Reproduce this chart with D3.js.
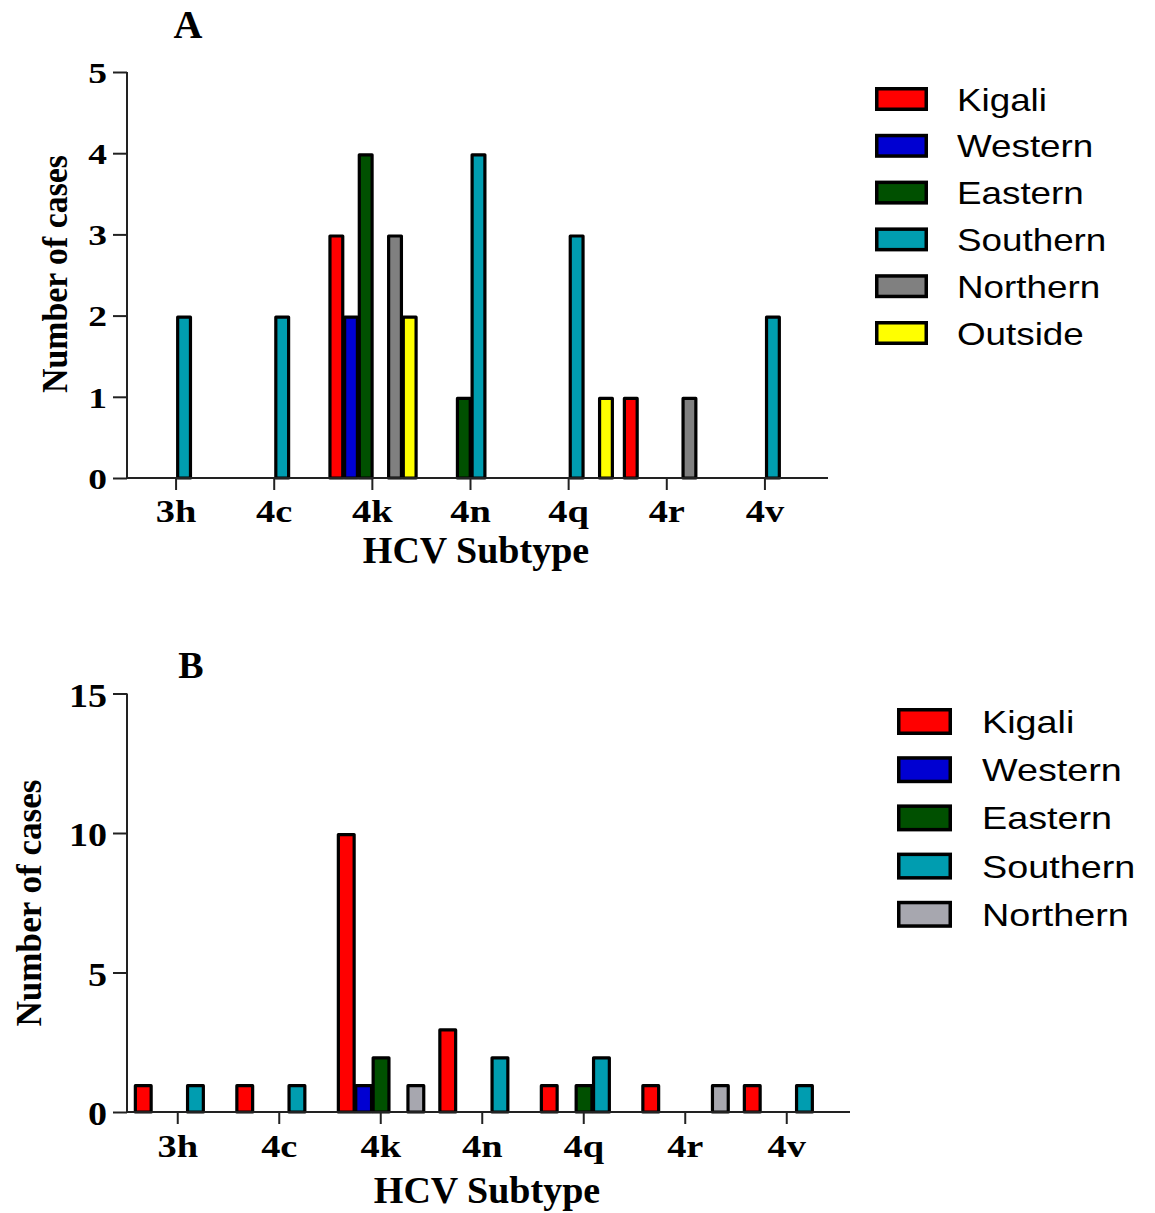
<!DOCTYPE html>
<html>
<head>
<meta charset="utf-8">
<script src="https://cdn.jsdelivr.net/npm/d3@7"></script>
<style>
  html, body { margin: 0; padding: 0; background: #fff; }
  svg { display: block; }
</style>
</head>
<body>
<script>
// ---------- DATA ----------
const categories = ["3h", "4c", "4k", "4n", "4q", "4r", "4v"];

const seriesA = ["Kigali", "Western", "Eastern", "Southern", "Northern", "Outside"];
const kigaliA   = [0, 0, 3, 0, 0, 1, 0];
const westernA  = [0, 0, 2, 0, 0, 0, 0];
const easternA  = [0, 0, 4, 1, 0, 0, 0];
const southernA = [2, 2, 0, 4, 3, 0, 2];
const northernA = [0, 0, 3, 0, 0, 1, 0];
const outsideA  = [0, 0, 2, 0, 1, 0, 0];
const yTicksA = [0, 1, 2, 3, 4, 5];

const seriesB = ["Kigali", "Western", "Eastern", "Southern", "Northern"];
const kigaliB   = [1, 1, 10, 3, 1, 1, 1];
const westernB  = [0, 0, 1, 0, 0, 0, 0];
const easternB  = [0, 0, 2, 0, 1, 0, 0];
const southernB = [1, 1, 0, 2, 2, 0, 1];
const northernB = [0, 0, 1, 0, 0, 1, 0];
const yTicksB = [0, 5, 10, 15];

const colorsA = ["#ff0000", "#0000d2", "#005000", "#009db0", "#808080", "#ffff00"];
const colorsB = ["#ff0000", "#0000d2", "#005000", "#009db0", "#a7a7af"];

const valuesA = [kigaliA, westernA, easternA, southernA, northernA, outsideA];
const valuesB = [kigaliB, westernB, easternB, southernB, northernB];

const SERIF = "'Liberation Serif', 'Times New Roman', serif";
const SANS = "'Liberation Sans', Arial, sans-serif";

const svg = d3.select("body").append("svg")
  .attr("width", 1155).attr("height", 1213)
  .style("background", "#fff");

function panel(cfg) {
  const g = svg.append("g");
  const x0 = d3.scaleBand().domain(categories).range(cfg.xRange).padding(0);
  const x1 = d3.scaleBand().domain(cfg.series).range(cfg.groupRange).padding(0);
  const y = d3.scaleLinear().domain([0, cfg.yMax]).range([cfg.y0, cfg.yTop]);
  const sw = 3.2;

  // bars
  const data = [];
  cfg.series.forEach((s, si) => {
    cfg.values[si].forEach((v, ci) => {
      if (v > 0) data.push({ s, si, c: categories[ci], v });
    });
  });
  g.append("g").selectAll("rect").data(data).enter().append("rect")
    .attr("x", d => x0(d.c) + x0.bandwidth() / 2 + x1(d.s) + sw / 2)
    .attr("width", cfg.barVisual - sw)
    .attr("y", d => y(d.v) + sw / 2)
    .attr("height", d => y(0) - y(d.v) - sw / 2)
    .attr("fill", d => cfg.colors[d.si])
    .attr("stroke", "#000")
    .attr("stroke-width", sw)
    .attr("stroke-linejoin", "round");

  // x axis
  const xAxis = g.append("g").attr("transform", `translate(0,${cfg.y0})`)
    .call(d3.axisBottom(x0).tickSize(12).tickPadding(0));
  xAxis.select(".domain").remove();
  xAxis.selectAll(".tick line").attr("stroke", "#222").attr("stroke-width", 2);
  xAxis.selectAll(".tick text")
    .attr("y", cfg.xLabelDy).attr("dy", 0)
    .attr("transform", `scale(${cfg.xLabelStretch},1)`)
    .attr("fill", "#000")
    .style("font-family", SERIF).style("font-weight", "bold")
    .style("font-size", cfg.xLabelSize + "px");
  g.append("line")
    .attr("x1", cfg.axisLeft).attr("x2", cfg.axisRight)
    .attr("y1", cfg.y0).attr("y2", cfg.y0)
    .attr("stroke", "#222").attr("stroke-width", 2);

  // y axis
  const yAxis = g.append("g").attr("transform", `translate(${cfg.axisLeft},0)`)
    .call(d3.axisLeft(y).tickValues(cfg.yTicks).tickSize(14).tickPadding(0).tickFormat(d3.format("d")));
  yAxis.select(".domain").attr("stroke", "#222").attr("stroke-width", 2)
    .attr("d", `M0,${cfg.yTop}V${cfg.y0}`);
  yAxis.selectAll(".tick line").attr("stroke", "#222").attr("stroke-width", 2);
  yAxis.selectAll(".tick text")
    .attr("x", -20 / cfg.yLabelStretch).attr("dy", cfg.yLabelDy)
    .attr("transform", `scale(${cfg.yLabelStretch},1)`)
    .attr("fill", "#000")
    .style("font-family", SERIF).style("font-weight", "bold")
    .style("font-size", cfg.yLabelSize + "px");

  // y title
  g.append("text")
    .attr("transform", `translate(${cfg.yTitleX},${cfg.yTitleY}) rotate(-90)`)
    .attr("text-anchor", "middle")
    .attr("textLength", cfg.yTitleLen).attr("lengthAdjust", "spacingAndGlyphs")
    .style("font-family", SERIF).style("font-weight", "bold").style("font-size", "36px")
    .text("Number of cases");

  // x title
  g.append("text")
    .attr("x", cfg.xTitleX).attr("y", cfg.xTitleY)
    .attr("text-anchor", "middle")
    .style("font-family", SERIF).style("font-weight", "bold").style("font-size", "38px")
    .text("HCV Subtype");

  // panel letter
  g.append("text")
    .attr("x", cfg.letterX).attr("y", cfg.letterY)
    .attr("text-anchor", "middle")
    .style("font-family", SERIF).style("font-weight", "bold").style("font-size", cfg.letterSize + "px")
    .text(cfg.letter);

  // legend
  const leg = g.append("g");
  cfg.series.forEach((s, i) => {
    const cy = cfg.legY + i * cfg.legStep;
    leg.append("rect")
      .attr("x", cfg.legX + 1.75).attr("y", cy - cfg.swH / 2 + 1.75)
      .attr("width", cfg.swW - 3.5).attr("height", cfg.swH - 3.5)
      .attr("fill", cfg.colors[i]).attr("stroke", "#000").attr("stroke-width", 3.5);
    leg.append("text")
      .attr("transform", `translate(${cfg.legTextX},${cy + 11.5}) scale(${cfg.legStretch},1)`)
      .style("font-family", SANS).style("font-size", "32px").attr("fill", "#000")
      .text(s);
  });
}

panel({
  series: seriesA, values: valuesA, colors: colorsA,
  xRange: [127, 814], groupRange: [-44, 44], barVisual: 16,
  yMax: 5, y0: 478, yTop: 72, yTicks: yTicksA,
  axisLeft: 127, axisRight: 828,
  xLabelDy: 44, xLabelSize: 32, xLabelStretch: 1.2,
  yLabelSize: 30, yLabelStretch: 1.25, yLabelDy: "0.34em",
  yTitleX: 67, yTitleY: 274, yTitleLen: 238,
  xTitleX: 476, xTitleY: 563,
  letter: "A", letterX: 188, letterY: 38, letterSize: 40,
  legX: 875, legY: 99, legStep: 46.8, swW: 53, swH: 24, legTextX: 957, legStretch: 1.15
});

panel({
  series: seriesB, values: valuesB, colors: colorsB,
  xRange: [127, 837.5], groupRange: [-44, 43], barVisual: 19,
  yMax: 15, y0: 1112, yTop: 693.5, yTicks: yTicksB,
  axisLeft: 127, axisRight: 850,
  xLabelDy: 45, xLabelSize: 32, xLabelStretch: 1.2,
  yLabelSize: 34, yLabelStretch: 1.12, yLabelDy: "0.38em",
  yTitleX: 41, yTitleY: 903, yTitleLen: 247,
  xTitleX: 487, xTitleY: 1203,
  letter: "B", letterX: 191, letterY: 678, letterSize: 38,
  legX: 897, legY: 721.5, legStep: 48.2, swW: 55, swH: 27, legTextX: 982, legStretch: 1.18
});
</script>
</body>
</html>
